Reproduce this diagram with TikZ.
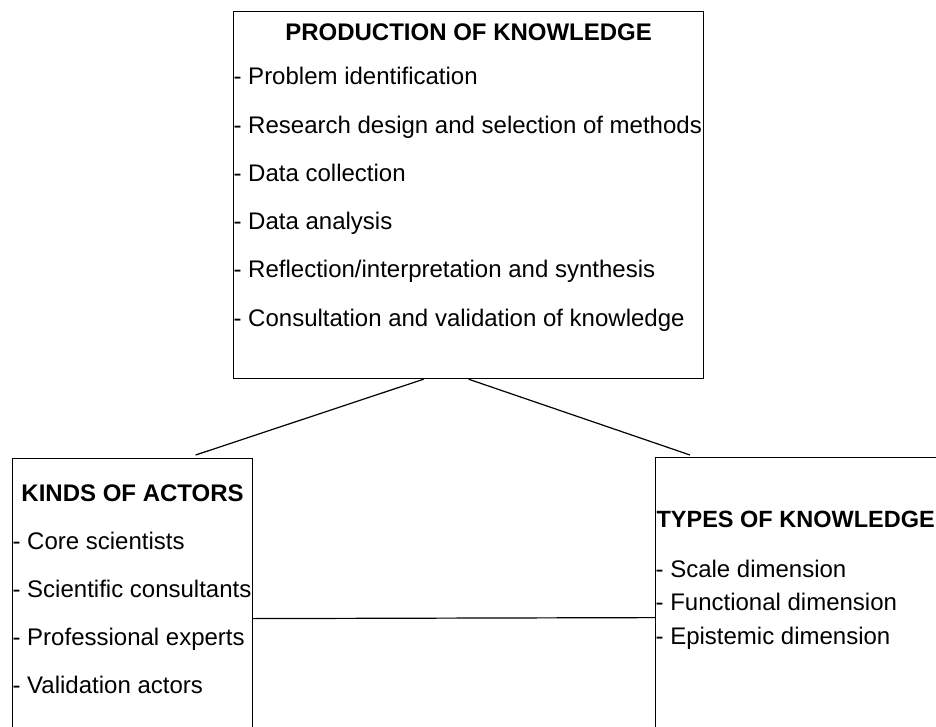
\documentclass[tikz,border=0pt]{standalone}
\usepackage{fontspec}
\setmainfont{Liberation Sans}
\usetikzlibrary{positioning,calc}
\tikzset{box/.style={draw,rectangle,inner sep=0pt,anchor=north west},  }

\begin{document}
\begin{tikzpicture}[x=0.5pt,y=-0.5pt,line width=0.6pt,
        box/.style={draw,rectangle,inner sep=0pt,anchor=north west},
        item/.style={inner sep=0pt,anchor=base west,font=\fontsize{12}{14}\selectfont},
        head/.style={inner sep=0pt,anchor=base,font=\bfseries\fontsize{12}{14}\selectfont}]
   \clip (0,0) rectangle (936,727);
   \node[box,minimum width=235pt,minimum height=183.5pt] (prod) at (233,11) {};
    \node[box,minimum width=120pt,minimum height=160pt] (actors) at (12,458) {};
    \node[box,minimum width=150pt,minimum height=160pt] (types) at (655,457) {};

   \node[head] (prodhead) at ($(prod.north)+(0,30)$) {PRODUCTION OF KNOWLEDGE};
   \node[item] (prod1) at ($(prod.north west)+(0,74)$) {- Problem identification};
   \node[item,below=24.1pt of prod1.base west,anchor=base west] (prod2) {- Research design and selection of methods};
   \node[item,below=24.1pt of prod2.base west,anchor=base west] (prod3) {- Data collection};
   \node[item,below=24.1pt of prod3.base west,anchor=base west] (prod4) {- Data analysis};
   \node[item,below=24.1pt of prod4.base west,anchor=base west] (prod5) {- Reflection/interpretation and synthesis};
   \node[item,below=24.1pt of prod5.base west,anchor=base west] (prod6) {- Consultation and validation of knowledge};

   \node[head] (actorshead) at ($(actors.north)+(0,43)$) {KINDS OF ACTORS};
   \node[item] (actors1) at ($(actors.north west)+(0,91)$) {- Core scientists};
   \node[item,below=24pt of actors1.base west,anchor=base west] (actors2) {- Scientific consultants};
   \node[item,below=24pt of actors2.base west,anchor=base west] (actors3) {- Professional experts};
   \node[item,below=24pt of actors3.base west,anchor=base west] (actors4) {- Validation actors};

   \node[head,anchor=base west,font=\bfseries\fontsize{11.75}{14}\selectfont] (typeshead) at ($(types.north west)+(1,70)$) {TYPES OF KNOWLEDGE};
   \node[item] (types1) at ($(types.north west)+(0,120)$) {- Scale dimension};
   \node[item,below=16.75pt of types1.base west,anchor=base west] (types2) {- Functional dimension};
   \node[item,below=16.75pt of types2.base west,anchor=base west] (types3) {- Epistemic dimension};

   \coordinate (prodleft) at ($(prod.south)+(-45,0)$);
   \coordinate (actorstop) at ($(actors.north)+(63,-3)$);
   \coordinate (typestop) at ($(types.north west)+(35,-2)$);
    \path[-]
    (prodleft) edge (actorstop)
    (prod.south) edge (typestop)
    (actors.east) edge (types.west);
\end{tikzpicture}
\end{document}
